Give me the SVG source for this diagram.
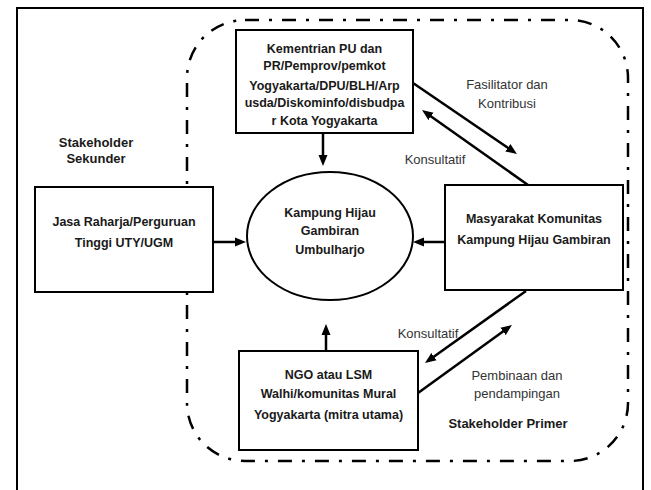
<svg xmlns="http://www.w3.org/2000/svg" width="651" height="490" viewBox="0 0 651 490">
<style>
.box{fill:#fff;stroke:#000;stroke-width:2}
.nt{font-family:"Liberation Sans",Arial,sans-serif;font-weight:bold;font-size:12.5px;text-anchor:middle;fill:#1a1a1a}
.lb{font-family:"Liberation Sans",Arial,sans-serif;font-size:13px;text-anchor:middle;fill:#333}
.sh{font-family:"Liberation Sans",Arial,sans-serif;font-weight:bold;font-size:13px;text-anchor:middle;fill:#1a1a1a}
.ar{stroke:#000;stroke-width:2.5;fill:none;marker-end:url(#ah)}
</style>
<defs>
<marker id="ah" markerUnits="userSpaceOnUse" markerWidth="11" markerHeight="10" refX="5" refY="5" orient="auto">
<path d="M0,0.5 L11,5 L0,9.5 z" fill="#000"/>
</marker>
</defs>
<rect x="17" y="8" width="626" height="500" fill="none" stroke="#000" stroke-width="2"/>
<g id="boundary">
<rect x="187" y="20" width="441" height="441" rx="58" ry="58" fill="none" stroke="#000" stroke-width="2.5" stroke-dasharray="14 10 3 10"/>
</g>
<g id="connectors">
<line class="ar" x1="323" y1="133" x2="323" y2="160"/>
<line class="ar" x1="213" y1="242" x2="240" y2="242"/>
<line class="ar" x1="445" y1="242" x2="419" y2="242"/>
<line class="ar" x1="326" y1="351" x2="326" y2="330"/>
<line class="ar" x1="413" y1="83" x2="512" y2="150.6"/>
<line class="ar" x1="528" y1="185" x2="426.9" y2="113.5"/>
<line class="ar" x1="526" y1="291" x2="429.9" y2="359.5"/>
<line class="ar" x1="418" y1="393" x2="507.1" y2="328.5"/>
</g>
<g id="n-kementrian">
<rect class="box" x="236" y="30" width="177" height="103"/>
<text class="nt" x="324.5" y="52.5">Kementrian PU dan</text>
<text class="nt" x="324.5" y="70">PR/Pemprov/pemkot</text>
<text class="nt" x="324.5" y="90">Yogyakarta/DPU/BLH/Arp</text>
<text class="nt" x="324.5" y="106.5">usda/Diskominfo/disbudpa</text>
<text class="nt" x="324.5" y="124.5">r Kota Yogyakarta</text>
</g>
<g id="n-jasa">
<rect class="box" x="35" y="187" width="178" height="105"/>
<text class="nt" x="124" y="225.5">Jasa Raharja/Perguruan</text>
<text class="nt" x="124" y="247">Tinggi UTY/UGM</text>
</g>
<g id="n-kampung">
<ellipse cx="330" cy="236" rx="83" ry="64" fill="#fff" stroke="#000" stroke-width="2"/>
<text class="nt" x="330" y="216.5">Kampung Hijau</text>
<text class="nt" x="330" y="234.5">Gambiran</text>
<text class="nt" x="330" y="253.5">Umbulharjo</text>
</g>
<g id="n-masyarakat">
<rect class="box" x="445" y="185" width="178" height="105"/>
<text class="nt" x="534" y="222.5">Masyarakat Komunitas</text>
<text class="nt" x="534" y="243.5">Kampung Hijau Gambiran</text>
</g>
<g id="n-ngo">
<rect class="box" x="239" y="351" width="179" height="99"/>
<text class="nt" x="328.5" y="378.5">NGO atau LSM</text>
<text class="nt" x="328.5" y="397.5">Walhi/komunitas Mural</text>
<text class="nt" x="328.5" y="418.5">Yogyakarta (mitra utama)</text>
</g>
<g id="labels">
<text class="sh" x="96" y="146.5">Stakeholder</text>
<text class="sh" x="96" y="163">Sekunder</text>
<text class="lb" x="507" y="89">Fasilitator dan</text>
<text class="lb" x="507" y="107.5">Kontribusi</text>
<text class="lb" x="435" y="163.5">Konsultatif</text>
<text class="lb" x="428" y="337.5">Konsultatif</text>
<text class="lb" x="517" y="379.5">Pembinaan dan</text>
<text class="lb" x="517" y="397.5">pendampingan</text>
<text class="sh" x="508" y="427.5">Stakeholder Primer</text>
</g>
</svg>
